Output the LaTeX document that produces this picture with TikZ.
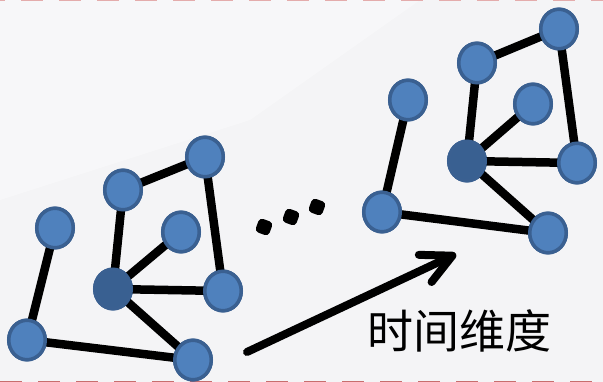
\documentclass[tikz,border=0pt]{standalone}
\usepackage{fontspec}
\newfontfamily\cjk{Noto Sans CJK SC}
\usetikzlibrary{shapes.geometric,arrows.meta}
\definecolor{bgc}{RGB}{244,244,246}
\definecolor{nodefill}{RGB}{79,129,189}
\definecolor{nodeedge}{RGB}{58,96,145}
\definecolor{hubfill}{RGB}{57,96,145}
\definecolor{dashtop}{RGB}{228,172,172}
\definecolor{dashbot}{RGB}{200,110,110}
\tikzset{
  vert/.style={ellipse, draw=nodeedge, fill=nodefill, line width=3.5pt,
    minimum width=36.5pt, minimum height=39.5pt, inner sep=0pt},
  hub/.style={vert, fill=hubfill},
  link/.style={line width=8.5pt, black},
  dotmark/.style={fill=black, rounded corners=4pt, minimum size=14.5pt, inner sep=0pt, rectangle, rotate=-20},
}
\begin{document}
\begin{tikzpicture}[x=1pt,y=-1pt]
\useasboundingbox (0,0) rectangle (603,382);
\fill[bgc] (0,0) rectangle (603,382);
\fill[white,opacity=0.35] (0,0) -- (420,0) -- (250,120) -- (0,200) -- cycle;
\draw[dashtop, line width=1.5pt, dash pattern=on 22pt off 16pt, dash phase=-21pt] (0,0.75) -- (603,0.75);
\draw[dashbot, line width=1.5pt, dash pattern=on 22pt off 16pt] (0,381.25) -- (603,381.25);

% left graph
\node[vert] (la) at (55,228) {};
\node[vert] (lb) at (27,340) {};
\node[vert] (lc) at (193,360) {};
\node[hub]  (ld) at (113,289) {};
\node[vert] (le) at (123,190) {};
\node[vert] (lf) at (205,157) {};
\node[vert] (lg) at (181,232) {};
\node[vert] (lh) at (223,291) {};

% right graph
\node[vert] (ra) at (408,100) {};
\node[vert] (rb) at (382,212) {};
\node[vert] (rc) at (548,233) {};
\node[hub]  (rd) at (467,161) {};
\node[vert] (re) at (477,63) {};
\node[vert] (rf) at (559,29) {};
\node[vert] (rg) at (533,104) {};
\node[vert] (rh) at (577,163) {};

% edges drawn, then nodes redrawn on top
\foreach \g in {l,r}{
  \draw[link] (\g a.center) -- (\g b.center);
  \draw[link] (\g b.center) -- (\g c.center);
  \draw[link] (\g d.center) -- (\g c.center);
  \draw[link] (\g d.center) -- (\g h.center);
  \draw[link] (\g d.center) -- (\g g.center);
  \draw[link] (\g d.center) -- (\g e.center);
  \draw[link] (\g e.center) -- (\g f.center);
  \draw[link] (\g f.center) -- (\g h.center);
}
\foreach \g in {l,r}{
  \foreach \n in {a,b,c,e,f,g,h}{
    \node[vert] at (\g\n) {};
  }
  \node[hub] at (\g d) {};
}

% dots
\node[dotmark] (d1) at (264,227) {};
\node[dotmark] (d2) at (291,217) {};
\node[dotmark] (d3) at (317,207) {};

% arrow
\coordinate (as) at (247,352);
\coordinate (at) at (456,254);
\draw[line width=8pt, line cap=round, -{Straight Barb[length=30pt,width=30pt,round]}] (as) -- (at);

\node[font=\cjk\fontsize{46}{46}\selectfont, inner sep=0pt] (lbl) at (459,331) {时间维度};
\end{tikzpicture}
\end{document}
